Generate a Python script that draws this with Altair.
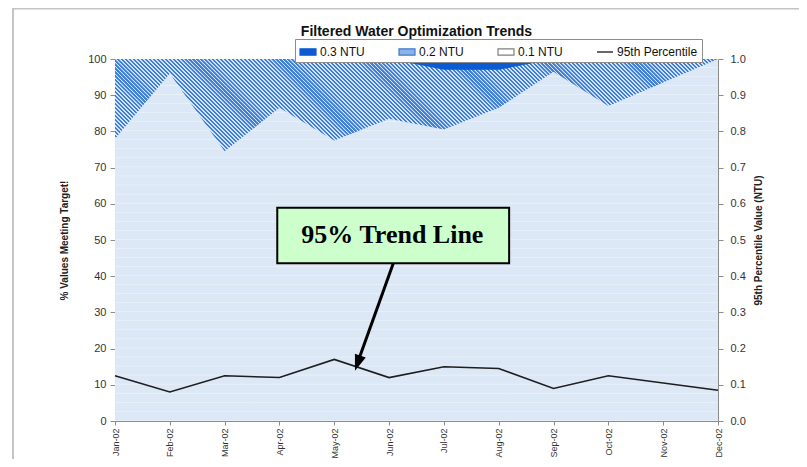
import json
import altair as alt
import pandas as pd

# ---------------- data ----------------
months = ["Jan-02", "Feb-02", "Mar-02", "Apr-02", "May-02", "Jun-02",
          "Jul-02", "Aug-02", "Sep-02", "Oct-02", "Nov-02", "Dec-02"]
month_index = [0, 1, 2, 3, 4, 5, 6, 7, 8, 9, 10, 11]
# cumulative % of values meeting each turbidity target
pct_03 = [100, 100, 100, 100, 100, 100, 100, 100, 100, 100, 100, 100]
pct_02 = [100, 100, 100, 100, 100, 100, 97, 97, 100, 100, 100, 100]
pct_01 = [78, 96, 74.5, 86.5, 77.5, 83.5, 80.5, 86.5, 96.5, 87, 93.5, 100]
# 95th percentile turbidity (NTU)
p95 = [0.125, 0.08, 0.125, 0.12, 0.17, 0.12, 0.15, 0.145, 0.09, 0.125, 0.105, 0.085]

legend_labels = ["0.3 NTU", "0.2 NTU", "0.1 NTU", "95th Percentile"]
left_ticks = [0, 10, 20, 30, 40, 50, 60, 70, 80, 90, 100]
right_ticks = [0.0, 0.1, 0.2, 0.3, 0.4, 0.5, 0.6, 0.7, 0.8, 0.9, 1.0]

chart_title = "Filtered Water Optimization Trends"
left_title = "% Values Meeting Target!"
right_title = "95th Percentile Value (NTU)"
note_text = "95% Trend Line"

# annotation anchors in data units (x = month index, y = % scale)
note_box = {"x": [2.96], "x2": [7.19], "y": [58.9], "y2": [43.6]}
note_label = {"x": [5.06], "y": [49.1]}
arrow_line = {"x": [5.077], "y": [43.6], "x2": [4.43], "y2": [16.3]}
arrow_tip = {"x": [4.378], "y": [13.9]}

# ---------------- styling ----------------
DARK = "#0b5bd3"
HATCH_BLUE = "#3f7fd6"
HATCH_WHITE = "#d2e2f7"
LIGHT = "#dce8f6"
LIGHT_LINE = "#e7eff9"
FONT = "Liberation Sans"

W, H = 603, 362


def stripe_gradient(c1, c2, n, frac, x1, y1, x2, y2):
    stops = []
    for k in range(n):
        a = k / n
        stops.append(alt.GradientStop(offset=round(a, 6), color=c1))
        stops.append(alt.GradientStop(offset=round((k + frac) / n, 6), color=c1))
        stops.append(alt.GradientStop(offset=round((k + frac + 0.06) / n, 6), color=c2))
        stops.append(alt.GradientStop(offset=round((k + 0.96) / n, 6), color=c2))
    return alt.Gradient(gradient="linear", stops=stops, x1=x1, y1=y1, x2=x2, y2=y2)


# diagonal hatch ("\\\\") across the full plot bounding box
r = H / W
t = (1 + r) / (1 + r * r)
hatch = stripe_gradient(HATCH_BLUE, HATCH_WHITE, 244, 0.5, 0, 1, round(t, 5), round(1 - r * t, 5))
light_fill = stripe_gradient(LIGHT, LIGHT_LINE, 40, 0.84, 0, 0, 0, 1)

df = pd.DataFrame({"idx": month_index, "month": months, "p03": pct_03,
                   "p02": pct_02, "p01": pct_01, "p95": p95})

x_scale = alt.Scale(domain=[0, 11], nice=False, zero=False)
pct_scale = alt.Scale(domain=[0, 100], nice=False)
ntu_scale = alt.Scale(domain=[0, 1], nice=False)

label_expr = json.dumps(months) + "[datum.value]"
x_axis = alt.Axis(orient="bottom", values=month_index, labelExpr=label_expr,
                  labelAngle=270, labelFontSize=9, tickSize=4, labelPadding=3,
                  title=None)


def X(field):
    return alt.X(field, scale=x_scale, axis=x_axis)


base = alt.Chart(df)

dark = base.mark_area(color=DARK, line=False).encode(
    x=X("idx:Q"),
    y=alt.Y("p03:Q", scale=pct_scale,
            axis=alt.Axis(orient="left", values=left_ticks, title=left_title,
                          titlePadding=18, labelPadding=4, tickSize=5)),
)
hatched = base.mark_area(color=hatch, line=False).encode(
    x=X("idx:Q"),
    y=alt.Y("p02:Q", scale=pct_scale, axis=None),
)
light = base.mark_area(color=light_fill, line=False).encode(
    x=X("idx:Q"),
    y=alt.Y("p01:Q", scale=pct_scale, axis=None),
)

rect_path = "M-1,-0.4H1V0.4H-1Z"
line_path = "M-1,0H1"
leg = alt.Legend(title=None, orient="none", legendX=180, legendY=-20,
                 direction="horizontal", labelFont=FONT, labelFontSize=12,
                 labelColor="#111111", symbolSize=256, symbolStrokeWidth=1.2,
                 strokeColor="#8c8c8c", fillColor="white", padding=4,
                 columnPadding=31, labelOffset=3)
leg_df = pd.DataFrame({"series": legend_labels})
legend_layer = alt.Chart(leg_df).mark_point(filled=True, opacity=1, size=256).encode(
    fill=alt.Fill("series:N", legend=leg,
                  scale=alt.Scale(domain=legend_labels,
                                  range=[DARK, "#8fb2e6", "#ffffff", "#000000"])),
    stroke=alt.Stroke("series:N", legend=leg,
                      scale=alt.Scale(domain=legend_labels,
                                      range=[DARK, "#3d7bd2", "#7f7f7f", "#000000"])),
    shape=alt.Shape("series:N", legend=leg,
                    scale=alt.Scale(domain=legend_labels,
                                    range=[rect_path, rect_path, rect_path, line_path])),
).transform_filter("false")

trend = base.mark_line(color="#1e1e1e", strokeWidth=1.6).encode(
    x=X("idx:Q"),
    y=alt.Y("p95:Q", scale=ntu_scale,
            axis=alt.Axis(orient="right", values=right_ticks, format=".1f",
                          title=right_title, titleAngle=270, titleBaseline="top",
                          titlePadding=8, labelPadding=7, tickSize=5)),
)

box = alt.Chart(pd.DataFrame(note_box)).mark_rect(
    fill="#ccffcc", stroke="#000000", strokeWidth=2).encode(
    x=X("x:Q"), x2="x2:Q",
    y=alt.Y("y:Q", scale=pct_scale, axis=None), y2="y2:Q")
label = alt.Chart(pd.DataFrame(note_label)).mark_text(
    text=note_text, font="Liberation Serif", fontWeight="bold", fontSize=26,
    color="#000000", align="center", baseline="alphabetic").encode(
    x=X("x:Q"),
    y=alt.Y("y:Q", scale=pct_scale, axis=None))
shaft = alt.Chart(pd.DataFrame(arrow_line)).mark_rule(color="#000000", strokeWidth=3).encode(
    x=X("x:Q"), x2="x2:Q",
    y=alt.Y("y:Q", scale=pct_scale, axis=None), y2="y2:Q")
head = alt.Chart(pd.DataFrame(arrow_tip)).mark_point(
    shape="M0,0L-0.36,-1L0.36,-1Z", filled=True, color="#000000", opacity=1,
    size=1024, angle=19.5, strokeWidth=0).encode(
    x=X("x:Q"),
    y=alt.Y("y:Q", scale=pct_scale, axis=None))

frame_df = pd.DataFrame({"k": [0]})
frame_left = alt.Chart(frame_df).mark_rule(color="#c4c4c4", strokeWidth=2).encode(
    x=alt.value(-102), y=alt.value(-51), y2=alt.value(420))
frame_top = alt.Chart(frame_df).mark_rule(color="#c4c4c4", strokeWidth=2).encode(
    x=alt.value(-103), x2=alt.value(690), y=alt.value(-50.5))

chart = alt.layer(
    dark, hatched, light, legend_layer, trend, box, label, shaft, head,
    frame_left, frame_top,
).resolve_scale(y="independent").properties(
    width=W, height=H,
    autosize=alt.AutoSizeParams(type="none"),
    padding={"left": 107, "top": 51, "right": 81, "bottom": 38},
    title=alt.TitleParams(chart_title, font=FONT, fontSize=14, fontWeight="bold",
                          color="#111111", anchor="middle", frame="group",
                          offset=4, dy=36),
).configure_view(stroke=None).configure_axis(
    labelFont=FONT, labelFontSize=11, labelColor="#333333",
    titleFont=FONT, titleFontSize=10, titleFontWeight="bold", titleColor="#222222",
    domainColor="#8c8c8c", tickColor="#8c8c8c", grid=False,
)

chart.save("out.html", embed_options={"renderer": "svg", "actions": False})
